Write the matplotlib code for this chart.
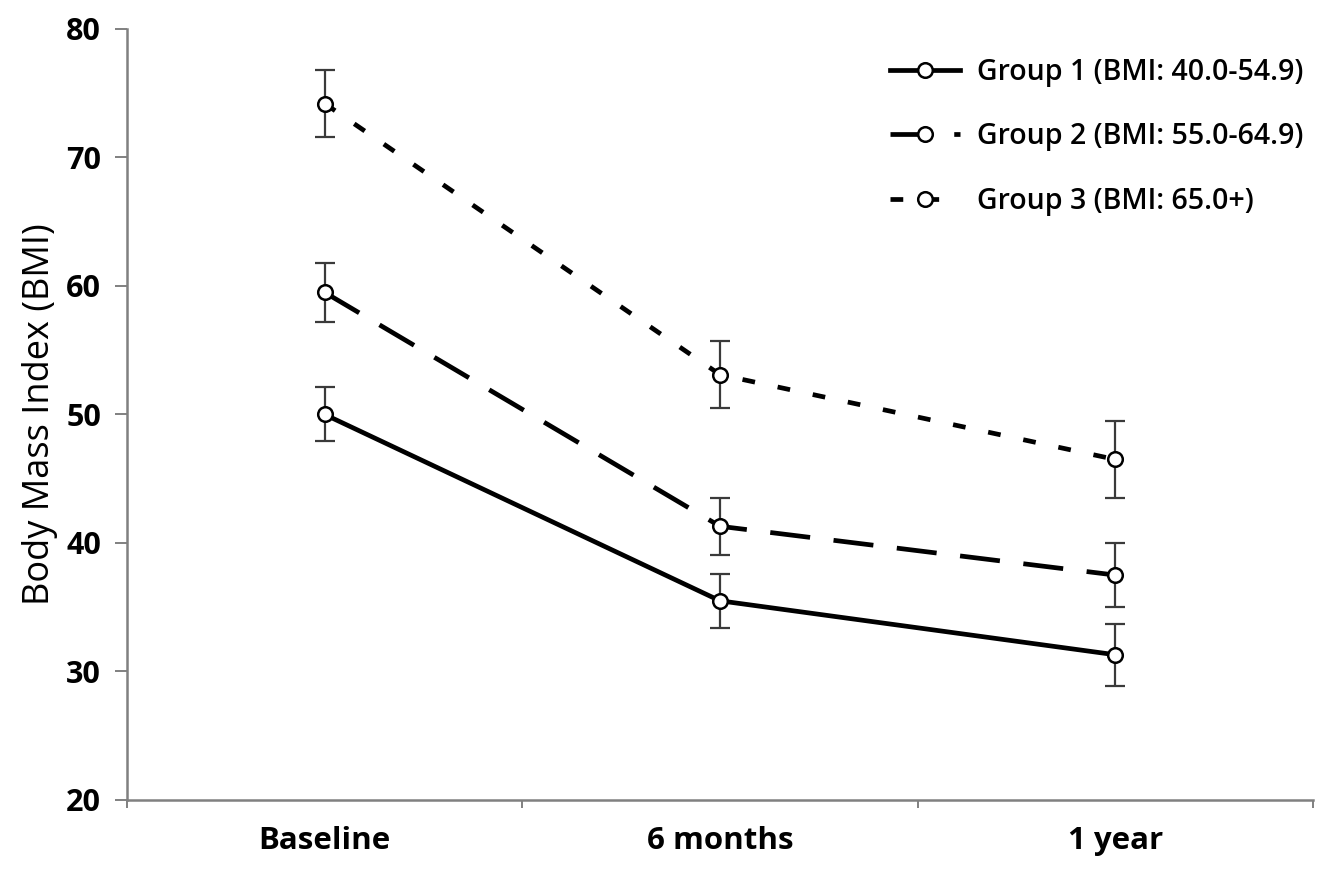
import matplotlib.pyplot as plt
import numpy as np

# values
timepoints = ["Baseline", "6 months", "1 year"]
group_labels = [
    "Group 1 (BMI: 40.0-54.9)",
    "Group 2 (BMI: 55.0-64.9)",
    "Group 3 (BMI: 65.0+)",
]
group1_mean = [50.0, 35.5, 31.3]
group1_err = [2.1, 2.1, 2.4]
group2_mean = [59.5, 41.3, 37.5]
group2_err = [2.3, 2.2, 2.5]
group3_mean = [74.2, 53.1, 46.5]
group3_err = [2.6, 2.6, 3.0]

plt.rcParams["font.family"] = ["Open Sans", "DejaVu Sans"]

fig = plt.figure(figsize=(13.28, 8.86), dpi=100)
ax = fig.add_axes([0.0956, 0.0971, 0.8931, 0.8702])

x = np.arange(len(timepoints))
lw = 3.4
styles = [
    "-",
    (0, (8.5, 5.0)),
    (0, (2.7, 4.9)),
]
means = [group1_mean, group2_mean, group3_mean]
errs = [group1_err, group2_err, group3_err]

for mean, err, ls, label in zip(means, errs, styles, group_labels):
    ax.errorbar(
        x, mean, yerr=err, fmt="none", ecolor="#3a3a3a",
        elinewidth=1.6, capsize=7, capthick=1.6, zorder=2,
    )
    ax.plot(
        x, mean, linestyle=ls, color="black", linewidth=lw,
        marker="o", markersize=10.5, markerfacecolor="white",
        markeredgecolor="black", markeredgewidth=1.8,
        label=label, zorder=3,
    )

ax.set_xlim(-0.5, 2.5)
ax.set_ylim(20, 80)
ax.set_yticks(np.arange(20, 81, 10))
ax.set_xticks(x)
ax.set_xticklabels(timepoints)
ax.set_xticks([-0.5, 0.5, 1.5, 2.5], minor=True)
ax.tick_params(axis="x", which="major", length=0, pad=19, labelsize=22.5)
ax.tick_params(axis="x", which="minor", length=6, width=1.4, color="#808080")
ax.tick_params(axis="y", length=8.6, width=1.4, color="#808080",
               labelsize=22, pad=10)
for lab in ax.get_xticklabels() + ax.get_yticklabels():
    lab.set_fontweight("bold")

ax.set_ylabel("Body Mass Index (BMI)", fontsize=26, labelpad=6)

for side in ["top", "right"]:
    ax.spines[side].set_visible(False)
for side in ["left", "bottom"]:
    ax.spines[side].set_color("#808080")
    ax.spines[side].set_linewidth(1.8)

leg = ax.legend(
    loc="upper right", bbox_to_anchor=(1.006, 0.985), frameon=False,
    fontsize=20.5, handlelength=2.45, labelspacing=1.25, handletextpad=0.6,
    borderaxespad=0.2,
)
for text in leg.get_texts():
    text.set_fontweight("semibold")

fig.savefig("out.png", dpi=100, facecolor="white")
